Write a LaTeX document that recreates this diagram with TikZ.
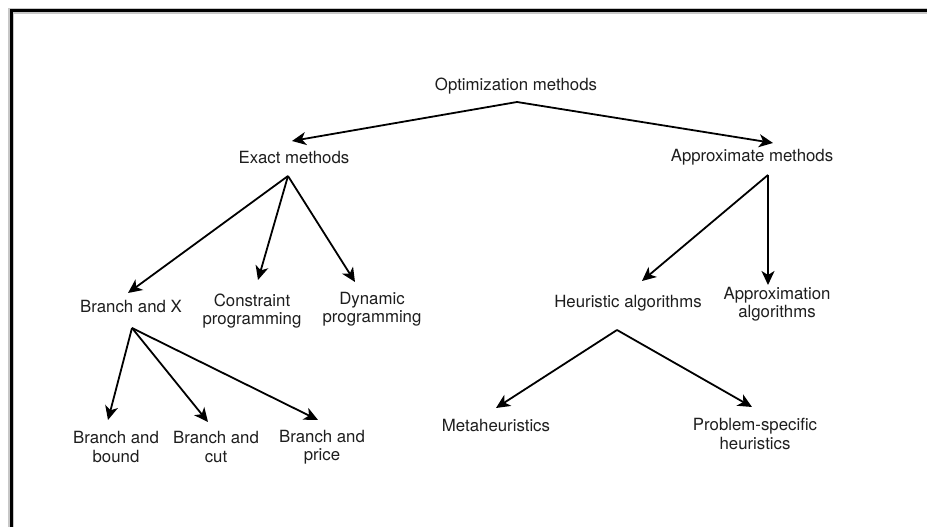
\documentclass[tikz,border=0pt]{standalone}
\usepackage{fontspec}
\setmainfont{TeX Gyre Heros}
\usetikzlibrary{arrows.meta,calc}
\definecolor{ink}{HTML}{1E1E1E}
\begin{document}
\begin{tikzpicture}[x=1pt,y=1pt,
  lbl/.style={inner sep=0pt,align=center,text=ink,font=\fontsize{16.8}{18.5}\selectfont},
  arr/.style={line width=1.8pt,draw=black,-{Stealth[length=14pt,width=13pt,inset=4pt]}}]
\useasboundingbox (0,0) rectangle (927,527);
\clip (0,0) rectangle (927,527);
\fill[white] (0,0) rectangle (927,527);
% frame with a soft edge, running off the page to the right and below
\draw[black!22,line width=5.5pt] (11,-20) -- (11,516) -- (950,516);
\draw[black,line width=3pt] (11,-20) -- (11,516) -- (950,516);

% nodes
\node[lbl] (opt)    at (516,441) {Optimization methods};
\node[lbl] (exact)  at (294,369) {Exact methods};
\node[lbl] (approx) at (752,370) {Approximate methods};
\node[lbl] (bx)     at (131,220) {Branch and X};
\node[lbl] (cp)     at (252,216) {Constraint\\programming};
\node[lbl] (dp)     at (372,218) {Dynamic\\programming};
\node[lbl] (ha)     at (628,224) {Heuristic algorithms};
\node[lbl] (aa)     at (777,223) {Approximation\\algorithms};
\node[lbl] (bb)     at (116,80)  {Branch and\\bound};
\node[lbl] (bc)     at (216,80)  {Branch and\\cut};
\node[lbl] (bp)     at (322,80)  {Branch and\\price};
\node[lbl] (meta)   at (496,101) {Metaheuristics};
\node[lbl] (ps)     at (755,93)  {Problem-specific\\heuristics};

% connectors
\draw[arr] ($(opt)+(1,-16)$) -- ($(exact)+(-2,17)$);
\draw[arr] ($(opt)+(1,-16)$) -- ($(approx)+(21,14)$);
\draw[arr] ($(exact)+(-6,-18)$) -- ($(bx)+(-3,14)$);
\draw[arr] ($(exact)+(-6,-18)$) -- ($(cp)+(6,31)$);
\draw[arr] ($(exact)+(-6,-18)$) -- ($(dp)+(-17,27)$);
\draw[arr] ($(approx)+(16,-18)$) -- ($(ha)+(14,22)$);
\draw[arr] ($(approx)+(16,-18)$) -- ($(aa)+(-9,19)$);
\draw[arr] ($(bx)+(1,-21)$) -- ($(bb)+(-8,27)$);
\draw[arr] ($(bx)+(1,-21)$) -- ($(bc)+(-8,25)$);
\draw[arr] ($(bx)+(1,-21)$) -- ($(bp)+(-4,27)$);
\draw[arr] ($(ha)+(-11,-27)$) -- ($(meta)+(0,18)$);
\draw[arr] ($(ha)+(-11,-27)$) -- ($(ps)+(-3,27)$);
\end{tikzpicture}
\end{document}
